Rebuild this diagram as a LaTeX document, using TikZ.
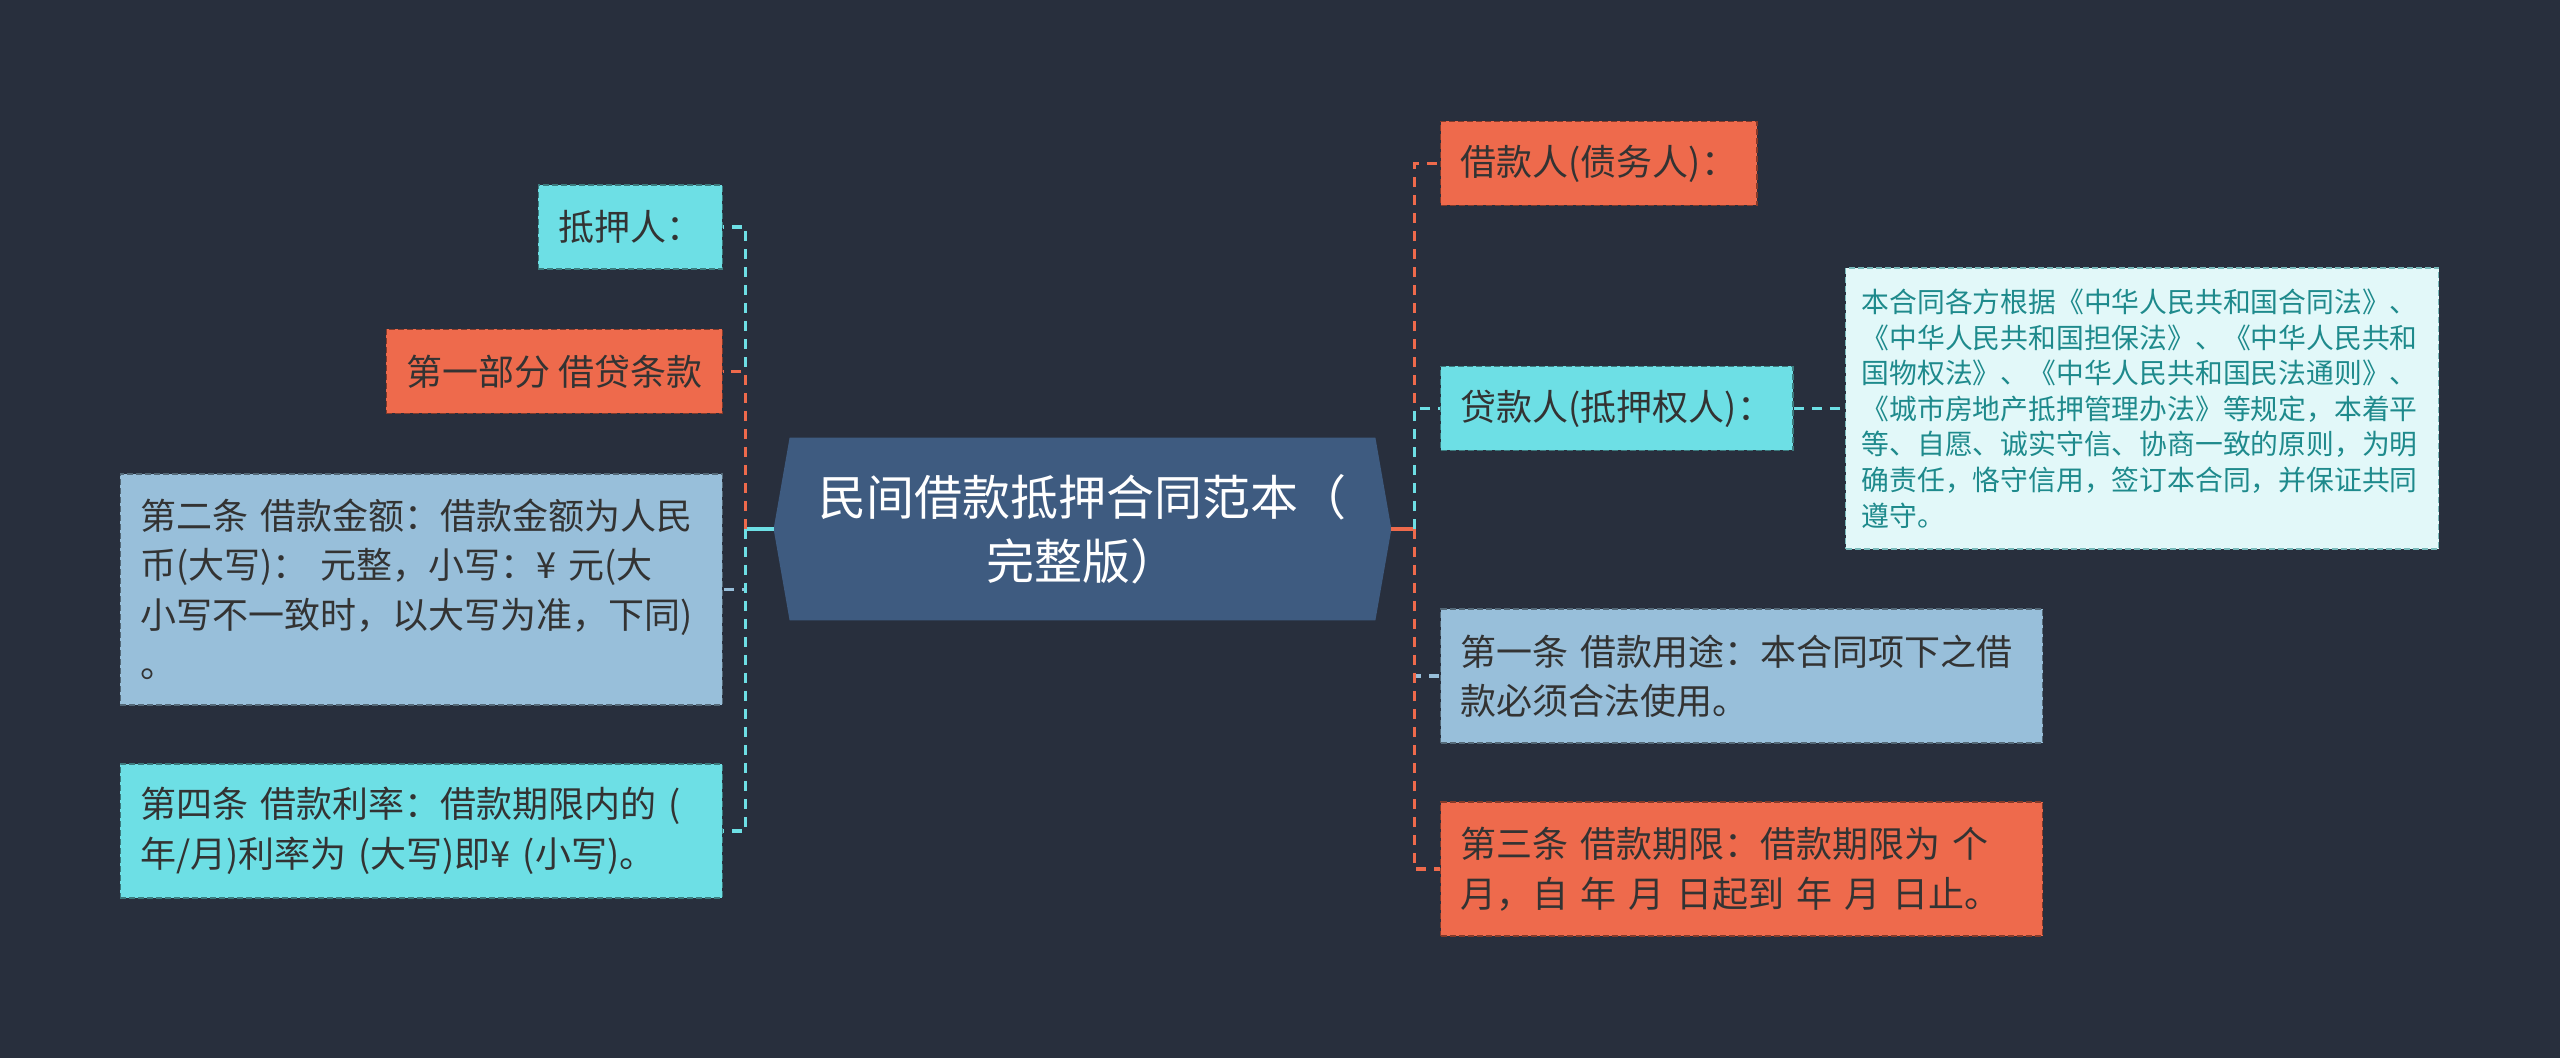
\documentclass[tikz,border=0pt]{standalone}
\usepackage{fontspec}
\setmainfont{Noto Sans CJK SC}
\usepackage{xcolor}
\usepackage{tikz}
\usetikzlibrary{backgrounds}
\definecolor{canvas}{HTML}{282F3D}
\definecolor{hubblue}{HTML}{3E5B80}
\definecolor{cy}{HTML}{6DDFE5}
\definecolor{og}{HTML}{EE6A4C}
\definecolor{lb}{HTML}{98BFDA}
\definecolor{mint}{HTML}{E2F8F9}
\definecolor{notetxt}{HTML}{1E8A8C}
\definecolor{ink}{HTML}{333333}
\tikzset{
  leaf/.style={rectangle, fill=#1, draw=#1!55!black, dash pattern=on 3pt off 1.5pt, line width=0.7pt,
    inner xsep=10pt, inner ysep=0pt, minimum height=42pt, text=ink, font=\fontsize{18}{24.75}\selectfont},
  para/.style={align=left, text width=281pt, minimum height=#1},
  note/.style={leaf=mint, draw=notetxt!60, text=notetxt, inner xsep=8pt, align=left, text width=280.5pt,
    minimum height=140.5pt, font=\fontsize{13.9}{17.8}\selectfont},
  hubtxt/.style={align=center, text=white, inner sep=0pt, font=\fontsize{24}{32}\selectfont},
  link/.style={line width=1.8pt, dash pattern=on 5pt off 4pt},
  stub/.style={line width=1.8pt},
}
\newcommand{\lleaf}[5]{%
  \node[leaf=#3, #4, anchor=east] (#1) at (723,#2) {#5};
  \draw[link, #3] (lj) |- (#1.east);}
\newcommand{\rleaf}[5]{%
  \node[leaf=#3, #4, anchor=west] (#1) at (1440,#2) {#5};
  \draw[link, #3] (rj) |- (#1.west);}

\begin{document}
\begin{tikzpicture}[x=0.5pt,y=-0.5pt]
  \node[hubtxt, minimum width=308.5pt, minimum height=91pt] (hub) at (1082.5,529) {民间借款抵押合同范本（\\完整版）};
  \begin{scope}[on background layer]
    \fill[canvas] (0,0) rectangle (2560,1058);
    \fill[hubblue] ([xshift=8pt]hub.north west) -- ([xshift=-8pt]hub.north east) -- (hub.east)
      -- ([xshift=-8pt]hub.south east) -- ([xshift=8pt]hub.south west) -- (hub.west) -- cycle;
  \end{scope}
  \coordinate (lj) at ([xshift=-14pt]hub.west);
  \coordinate (rj) at ([xshift=11.5pt]hub.east);
  \draw[stub, cy] (hub.west) -- (lj);
  \draw[stub, og] (hub.east) -- (rj);

  \lleaf{mortgagor}{227}{cy}{}{抵押人：}
  \lleaf{partone}{371.5}{og}{}{第一部分 借贷条款}
  \lleaf{amount}{589.5}{lb}{para=115.5pt}{第二条 借款金额：借款金额为人民\\币(大写)： 元整，小写：¥ 元(大\\小写不一致时，以大写为准，下同)\\。}
  \lleaf{rate}{831}{cy}{para=67pt}{第四条 借款利率：借款期限内的 (\\年/月)利率为 (大写)即¥ (小写)。}

  \rleaf{borrower}{163.5}{og}{}{借款人(债务人)：}
  \rleaf{lender}{408.5}{cy}{}{贷款人(抵押权人)：}
  \rleaf{purpose}{676}{lb}{para=67pt}{第一条 借款用途：本合同项下之借\\款必须合法使用。}
  \rleaf{term}{869}{og}{para=67pt}{第三条 借款期限：借款期限为 个\\月，自 年 月 日起到 年 月 日止。}

  \node[note, anchor=west] (basis) at (1845,408.5) {本合同各方根据《中华人民共和国合同法》、\\《中华人民共和国担保法》、《中华人民共和\\国物权法》、《中华人民共和国民法通则》、\\《城市房地产抵押管理办法》等规定，本着平\\等、自愿、诚实守信、协商一致的原则，为明\\确责任，恪守信用，签订本合同，并保证共同\\遵守。};
  \draw[link, cy] (lender.east) -- (basis.west);
\end{tikzpicture}
\end{document}
